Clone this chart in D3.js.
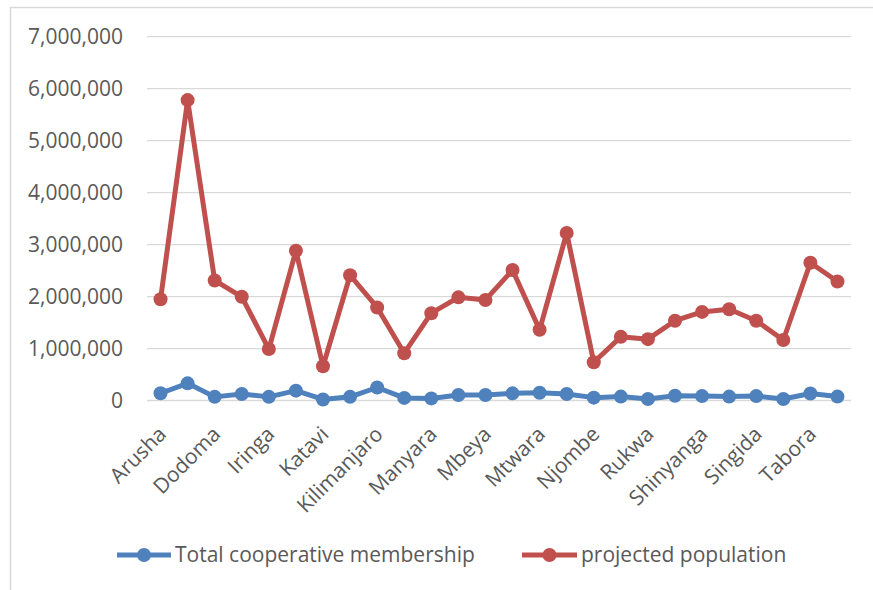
<!DOCTYPE html>
<html>
<head>
<meta charset="utf-8">
<script src="https://cdn.jsdelivr.net/npm/d3@7"></script>
<style>
  html, body { margin: 0; padding: 0; background: #fff; }
  svg { display: block; }
  text { font-family: "Open Sans", "DejaVu Sans", sans-serif; fill: #595959; }
</style>
</head>
<body>
<svg id="chart" width="873" height="590"></svg>
<script>
// Regions of Tanzania
const regions = [
  "Arusha", "Dar es Salaam", "Dodoma", "Geita", "Iringa", "Kagera", "Katavi",
  "Kigoma", "Kilimanjaro", "Lindi", "Manyara", "Mara", "Mbeya", "Morogoro",
  "Mtwara", "Mwanza", "Njombe", "Pwani", "Rukwa", "Ruvuma", "Shinyanga",
  "Simiyu", "Singida", "Songwe", "Tabora", "Tanga"
];

// Total cooperative membership per region
const membership = [
  140000, 330000, 70000, 125000, 70000, 190000, 20000,
  70000, 250000, 50000, 40000, 105000, 105000, 138000,
  150000, 125000, 55000, 75000, 30000, 90000, 85000,
  75000, 85000, 30000, 135000, 75000
];

// Projected population per region
const population = [
  1947000, 5780000, 2310000, 1995000, 990000, 2880000, 660000,
  2410000, 1790000, 910000, 1680000, 1985000, 1935000, 2510000,
  1360000, 3225000, 735000, 1225000, 1180000, 1535000, 1705000,
  1755000, 1535000, 1165000, 2650000, 2290000
];

const yTicks = [0, 1000000, 2000000, 3000000, 4000000, 5000000, 6000000, 7000000];

const seriesNames = ["Total cooperative membership", "projected population"];
const seriesColors = ["#4F81BD", "#C0504D"];

const FONT = 21;

const svg = d3.select("#chart");

// outer frame
svg.append("path")
  .attr("d", "M10.5,600 V7.5 H880")
  .attr("fill", "none")
  .attr("stroke", "#d9d9d9")
  .attr("stroke-width", 1.5);

const plot = { left: 147, right: 851, top: 36.7, bottom: 400.5 };

const x = d3.scaleBand().domain(regions).range([plot.left, plot.right]);
const y = d3.scaleLinear().domain([0, 7000000]).range([plot.bottom, plot.top]);

// gridlines
svg.append("g").selectAll("line").data(yTicks).join("line")
  .attr("x1", plot.left).attr("x2", plot.right)
  .attr("y1", d => y(d)).attr("y2", d => y(d))
  .attr("stroke", "#d9d9d9").attr("stroke-width", 1.3);

// y axis labels
const yAxis = d3.axisLeft(y).tickValues(yTicks).tickFormat(d3.format(",")).tickSize(0).tickPadding(0);
const gy = svg.append("g").attr("transform", `translate(123,0)`).call(yAxis);
gy.select(".domain").remove();
gy.selectAll("text").attr("font-size", FONT).attr("fill", "#595959")
  .style("font-family", '"Open Sans", sans-serif');

// x axis labels (every other category)
const xAxis = d3.axisBottom(x).tickValues(regions.filter((d, i) => i % 2 === 0)).tickSize(0).tickPadding(0);
const gx = svg.append("g").attr("transform", `translate(0,${plot.bottom})`).call(xAxis);
gx.select(".domain").remove();
gx.selectAll("text")
  .attr("font-size", FONT).attr("fill", "#595959")
  .style("font-family", '"Open Sans", sans-serif')
  .attr("text-anchor", "end")
  .attr("dy", null).attr("y", 0)
  .attr("transform", "translate(7,35) rotate(-45)");

const cx = d => x(d) + x.bandwidth() / 2;
const line = d3.line().x(d => cx(d[0])).y(d => y(d[1]));

[membership, population].forEach((vals, k) => {
  const pts = regions.map((r, i) => [r, vals[i]]);
  const g = svg.append("g");
  g.append("path").datum(pts)
    .attr("d", line)
    .attr("fill", "none")
    .attr("stroke", seriesColors[k])
    .attr("stroke-width", 5)
    .attr("stroke-linejoin", "round");
  g.selectAll("circle").data(pts).join("circle")
    .attr("cx", d => cx(d[0])).attr("cy", d => y(d[1]))
    .attr("r", 7).attr("fill", seriesColors[k]);
});

// legend
const legendItems = [
  { x1: 117, x2: 171, tx: 175 },
  { x1: 522, x2: 577, tx: 581 }
];
const lg = svg.append("g");
legendItems.forEach((it, k) => {
  lg.append("line").attr("x1", it.x1).attr("x2", it.x2).attr("y1", 555).attr("y2", 555)
    .attr("stroke", seriesColors[k]).attr("stroke-width", 5);
  lg.append("circle").attr("cx", (it.x1 + it.x2) / 2).attr("cy", 555).attr("r", 7).attr("fill", seriesColors[k]);
  lg.append("text").attr("x", it.tx).attr("y", 555).attr("dy", "0.35em")
    .attr("font-size", FONT).text(seriesNames[k]);
});
</script>
</body>
</html>
